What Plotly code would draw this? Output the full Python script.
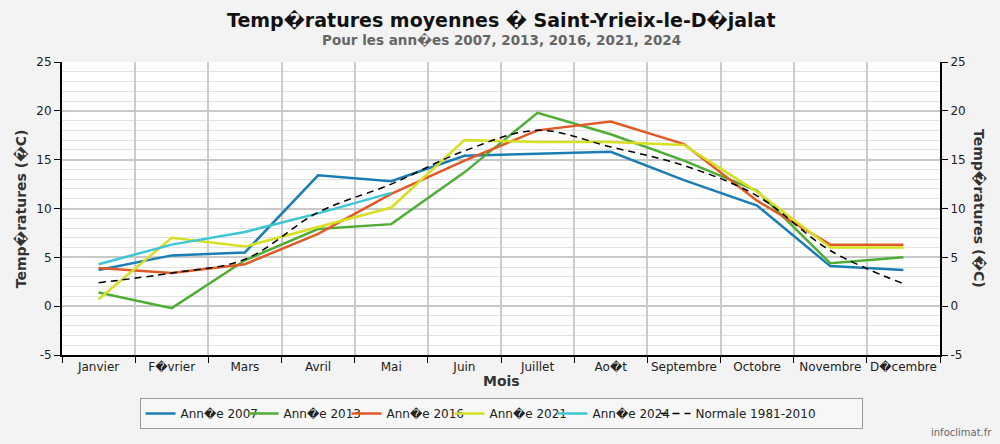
import plotly.graph_objects as go

R = "\ufffd"
months = ["Janvier", f"F{R}vrier", "Mars", "Avril", "Mai", "Juin", "Juillet",
          f"Ao{R}t", "Septembre", "Octobre", "Novembre", f"D{R}cembre"]

y2007 = [3.7, 5.2, 5.5, 13.4, 12.8, 15.4, 15.6, 15.8, 12.9, 10.3, 4.1, 3.7]
y2013 = [1.4, -0.2, 4.7, 7.9, 8.4, 13.7, 19.8, 17.6, 14.9, 11.8, 4.4, 5.0]
y2016 = [3.9, 3.4, 4.3, 7.4, 11.5, 14.9, 18.0, 18.9, 16.6, 10.8, 6.3, 6.3]
y2021 = [0.7, 7.0, 6.1, 8.1, 10.1, 17.0, 16.8, 16.8, 16.5, 11.7, 6.0, 6.0]
y2024 = [4.3, 6.3, 7.6, 9.5, 11.6, None, None, None, None, None, None, None]
normale = [2.4, 3.4, 4.8, 9.6, 12.5, 15.9, 18.0, 16.3, 14.4, 11.3, 5.7, 2.3]

y_ticks = [-5, 0, 5, 10, 15, 20, 25]
y_ticklabels = ["-5", "0", "5", "10", "15", "20", "25"]

series = [
    (f"Ann{R}e 2007", y2007, "#1a7db4"),
    (f"Ann{R}e 2013", y2013, "#4fad36"),
    (f"Ann{R}e 2016", y2016, "#e05a25"),
    (f"Ann{R}e 2021", y2021, "#d6df22"),
    (f"Ann{R}e 2024", y2024, "#3ec6d6"),
]

FONT = "DejaVu Sans"
fig = go.Figure()
for name, vals, col in series:
    fig.add_trace(go.Scatter(x=months, y=vals, name=name, mode="lines",
                             line=dict(color=col, width=2.5)))
fig.add_trace(go.Scatter(x=months, y=normale, name="Normale 1981-2010", mode="lines",
                         line=dict(color="black", width=1.5, dash="7px,5px", shape="spline")))
# empty legend spacer so the last (longer) legend label fits inside the box
fig.add_trace(go.Scatter(x=[months[0]], y=[None], name=" ", mode="lines",
                         line=dict(color="rgba(0,0,0,0)"), hoverinfo="skip"))
fig.add_trace(go.Scatter(x=[months[0]], y=[None], yaxis="y2", showlegend=False,
                         hoverinfo="skip"))

yax_common = dict(
    range=[-5, 25], tickvals=y_ticks, ticktext=y_ticklabels,
    showline=True, linecolor="black", linewidth=2,
    ticks="outside", ticklen=6, tickcolor="black",
    tickfont=dict(size=12, color="#222"), zeroline=False)

fig.update_layout(
    width=1000, height=444,
    margin=dict(l=62, r=60, t=62, b=89),
    paper_bgcolor="#f3f3f3",
    plot_bgcolor="white",
    font=dict(family=FONT, size=12, color="#222"),
    xaxis=dict(
        type="category", range=[-0.5, 11.5], tickson="boundaries", tickangle=0,
        showgrid=True, gridcolor="#cccccc", gridwidth=2,
        showline=True, linecolor="black", linewidth=2,
        ticks="outside", ticklen=6, tickcolor="black", tickwidth=1,
        tickfont=dict(size=12, color="#222"),
        zeroline=False),
    yaxis=dict(
        showgrid=True, gridcolor="#c8c8c8", gridwidth=2,
        minor=dict(dtick=1, tick0=0, showgrid=True, gridcolor="#e2e2e2", gridwidth=1),
        **yax_common),
    yaxis2=dict(overlaying="y", side="right", showgrid=False, **yax_common),
    legend=dict(
        orientation="h", x=0.5, xanchor="center", y=-0.2, yanchor="middle",
        bgcolor="#f7f7f7", bordercolor="#999", borderwidth=1,
        font=dict(size=12, color="#222"), itemwidth=30, entrywidth=58,
        tracegroupgap=0),
    annotations=[
        dict(text=f"<b>Temp{R}ratures moyennes {R} Saint-Yrieix-le-D{R}jalat</b>",
             xref="paper", yref="paper", x=0.5, y=1.143, showarrow=False,
             font=dict(size=19, color="#111"), xanchor="center", yanchor="middle"),
        dict(text=f"<b>Pour les ann{R}es 2007, 2013, 2016, 2021, 2024</b>",
             xref="paper", yref="paper", x=0.5, y=1.075, showarrow=False,
             font=dict(size=13.5, color="#666"), xanchor="center", yanchor="middle"),
        dict(text="<b>Mois</b>", xref="paper", yref="paper", x=0.5, y=-0.089,
             showarrow=False, font=dict(size=14, color="#333"),
             xanchor="center", yanchor="middle"),
        dict(text=f"<b>Temp{R}ratures ({R}C)</b>", xref="paper", yref="paper",
             x=-0.047, y=0.5, textangle=-90, showarrow=False,
             font=dict(size=14, color="#333"), xanchor="center", yanchor="middle"),
        dict(text=f"<b>Temp{R}ratures ({R}C)</b>", xref="paper", yref="paper",
             x=1.045, y=0.5, textangle=90, showarrow=False,
             font=dict(size=14, color="#333"), xanchor="center", yanchor="middle"),
        dict(text="infoclimat.fr", xref="paper", yref="paper", x=1.062, y=-0.265,
             showarrow=False, font=dict(size=10, color="#666"),
             xanchor="right", yanchor="middle"),
    ],
)

fig.write_html("out.html")
